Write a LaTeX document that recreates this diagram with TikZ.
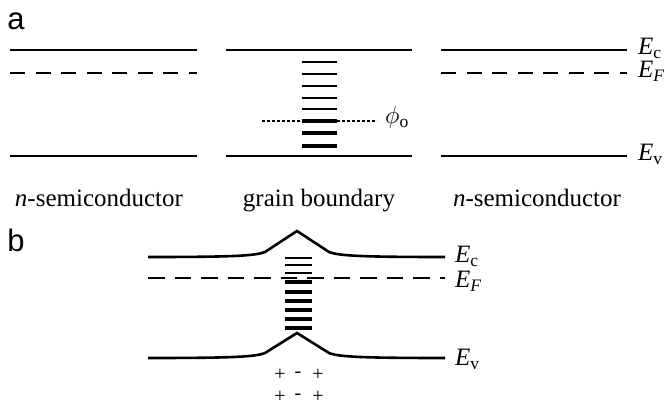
\documentclass[tikz,border=0pt]{standalone}
\usepackage{fontspec}
\setmainfont{Liberation Serif}
\newfontfamily\labelfont{Liberation Sans}
\tikzset{
  band/.style={line width=2.6pt},
  fermi/.style={line width=2.6pt, dash pattern=on 15pt off 10.5pt},
  trapthin/.style={line width=2.3pt},
  trapthick/.style={line width=3.5pt},
  phidot/.style={line width=1.2pt, dash pattern=on 3pt off 2pt},
  lbl/.style={inner sep=0pt, anchor=base, font=\fontsize{25}{28}\selectfont},
  elbl/.style={inner sep=0pt, anchor=base west, font=\fontsize{25}{28}\selectfont},
  panel/.style={inner sep=0pt, font=\labelfont\fontsize{31}{34}\selectfont},
  charge/.style={inner sep=0pt, font=\fontsize{20}{20}\selectfont},
}
\begin{document}
\begin{tikzpicture}[x=1pt,y=-1pt]
\useasboundingbox (0,0) rectangle (665,406);
% panel labels
\node[panel] (pa) at (16,21) {a};
\node[panel] (pb) at (16,240) {b};
% ---------- panel a ----------
% left n-semiconductor
\coordinate (lc1) at (10,50);  \coordinate (lc2) at (197,50);
\coordinate (lf1) at (10,73);  \coordinate (lf2) at (197,73);
\coordinate (lv1) at (10,156); \coordinate (lv2) at (197,156);
\draw[band] (lc1) -- (lc2);
\draw[fermi] (lf1) -- (lf2);
\draw[band] (lv1) -- (lv2);
% grain boundary
\coordinate (mc1) at (226,50);  \coordinate (mc2) at (412,50);
\coordinate (mv1) at (226,156); \coordinate (mv2) at (412,156);
\draw[band] (mc1) -- (mc2);
\draw[band] (mv1) -- (mv2);
\foreach \yy in {62,74,86,98,109} {\draw[trapthin] (302,\yy) -- (337,\yy);}
\foreach \yy in {121,133,146} {\draw[trapthick] (302,\yy) -- (337,\yy);}
\coordinate (p1) at (262,121); \coordinate (p2) at (377,121);
\draw[phidot] (p1) -- (p2);
\node[elbl] (phi) at (385,124) {$\phi$\textsubscript{o}};
% right n-semiconductor
\coordinate (rc1) at (441,50);  \coordinate (rc2) at (627,50);
\coordinate (rf1) at (441,73);  \coordinate (rf2) at (627,73);
\coordinate (rv1) at (441,156); \coordinate (rv2) at (627,156);
\draw[band] (rc1) -- (rc2);
\draw[fermi] (rf1) -- (rf2);
\draw[band] (rv1) -- (rv2);
\node[elbl] (ec) at (638,55) {\textit{E}\textsubscript{c}};
\node[elbl] (ef) at (638,78) {\textit{E}\textsubscript{\textit{F}}};
\node[elbl] (ev) at (638,161) {\textit{E}\textsubscript{v}};
% region labels
\node[lbl] (n1) at (99,207) {\textit{n}-semiconductor};
\node[lbl] (gb) at (319,207) {grain boundary};
\node[lbl] (n2) at (537,207) {\textit{n}-semiconductor};
% ---------- panel b ----------
\coordinate (bc1) at (148,257); \coordinate (bcp) at (297,231); \coordinate (bc2) at (445,257);
\draw[band, line join=miter] (bc1) .. controls (230,257) and (255,256) .. (265,252) -- (bcp) -- (329,252) .. controls (339,256) and (365,257) .. (bc2);
\coordinate (bf1) at (148,278); \coordinate (bf2) at (445,278);
\draw[fermi, dash pattern=on 16.5pt off 10pt] (bf1) -- (bf2);
\coordinate (bv1) at (148,358); \coordinate (bvp) at (297,333); \coordinate (bv2) at (445,358);
\draw[band, line join=miter] (bv1) .. controls (230,358) and (255,357) .. (265,353) -- (bvp) -- (329,353) .. controls (339,357) and (365,358) .. (bv2);
\foreach \yy in {258,265,273} {\draw[trapthin] (285,\yy) -- (312,\yy);}
\foreach \yy in {282,292,301,310,319,328} {\draw[trapthick] (285,\yy) -- (312,\yy);}
\node[elbl] (bec) at (455,263) {\textit{E}\textsubscript{c}};
\node[elbl] (bef) at (455,288) {\textit{E}\textsubscript{\textit{F}}};
\node[elbl] (bev) at (455,366) {\textit{E}\textsubscript{v}};
% charges
\node[charge] (q1) at (280,375) {+};
\node[charge] (q2) at (298,375) {-};
\node[charge] (q3) at (318,375) {+};
\node[charge] (q4) at (280,397) {+};
\node[charge] (q5) at (298,397) {-};
\node[charge] (q6) at (318,397) {+};
\end{tikzpicture}
\end{document}
